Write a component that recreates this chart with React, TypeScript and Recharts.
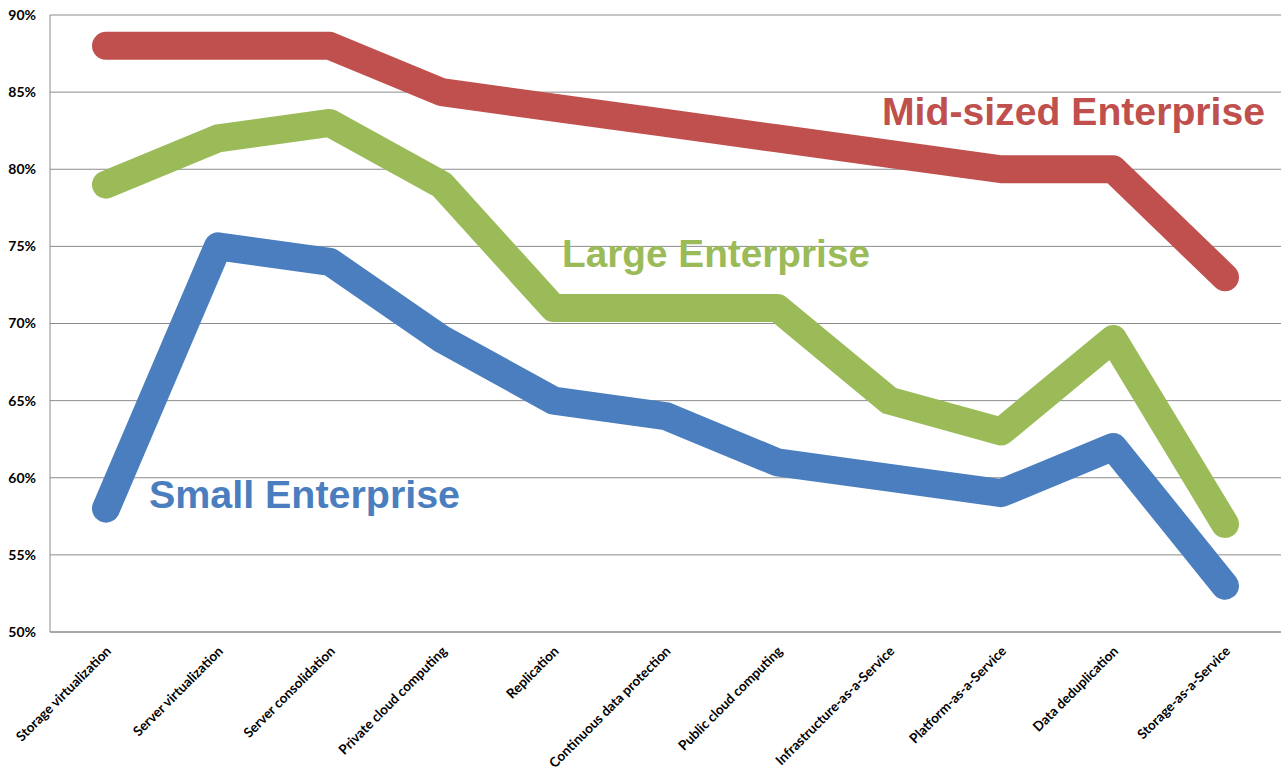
import React from "react";
import {
  LineChart,
  Line,
  XAxis,
  YAxis,
  CartesianGrid,
  Customized,
} from "recharts";

const categories = [
  "Storage virtualization",
  "Server virtualization",
  "Server consolidation",
  "Private cloud computing",
  "Replication",
  "Continuous data protection",
  "Public cloud computing",
  "Infrastructure-as-a-Service",
  "Platform-as-a-Service",
  "Data deduplication",
  "Storage-as-a-Service",
];
const midSized = [88, 88, 88, 85, 84, 83, 82, 81, 80, 80, 73];
const large = [79, 82, 83, 79, 71, 71, 71, 65, 63, 69, 57];
const small = [58, 75, 74, 69, 65, 64, 61, 60, 59, 62, 53];
const yTicks = [50, 55, 60, 65, 70, 75, 80, 85, 90];

const data = categories.map((name, i) => ({
  name,
  mid: midSized[i],
  large: large[i],
  small: small[i],
}));

const RED = "#C0504D";
const GREEN = "#9BBB59";
const BLUE = "#4A7EBE";
const GRID = "#8C8C8C";
const TICK_FONT = "Lato, 'Liberation Sans', sans-serif";

function CategoryTick(props: any) {
  const { x, y, payload } = props;
  return (
    <g transform={`translate(${x + 6},${y + 12})`}>
      <text
        transform="rotate(-45)"
        textAnchor="end"
        fontFamily={TICK_FONT}
        fontWeight="bold"
        fontSize={13.5}
        fill="#000"
      >
        {payload.value}
      </text>
    </g>
  );
}

function SeriesLabels() {
  const font = "'Liberation Sans', Arial, sans-serif";
  return (
    <g fontFamily={font} fontWeight="bold" fontSize={38}>
      <text x={882} y={125} fill={RED} textLength={383} lengthAdjust="spacingAndGlyphs">
        Mid-sized Enterprise
      </text>
      <text x={562} y={267} fill={GREEN} textLength={308} lengthAdjust="spacingAndGlyphs">
        Large Enterprise
      </text>
      <text x={149} y={508} fill={BLUE} textLength={311} lengthAdjust="spacingAndGlyphs">
        Small Enterprise
      </text>
    </g>
  );
}

export default function App() {
  const lineProps = {
    type: "linear" as const,
    strokeWidth: 28,
    strokeLinecap: "round" as const,
    strokeLinejoin: "round" as const,
    dot: false,
    activeDot: false,
    isAnimationActive: false,
  };

  return (
    <div style={{ position: "absolute", left: 0, top: 0, background: "#fff" }}>
      <LineChart
        width={1283}
        height={772}
        data={data}
        margin={{ top: 15, right: 2, left: 0, bottom: 0 }}
      >
        <CartesianGrid vertical={false} stroke={GRID} strokeWidth={1} />
        <XAxis
          dataKey="name"
          interval={0}
          height={140}
          padding={{ left: 56, right: 56 }}
          tickLine={false}
          axisLine={{ stroke: GRID }}
          tick={<CategoryTick />}
        />
        <YAxis
          width={50}
          domain={[50, 90]}
          ticks={yTicks}
          tickFormatter={(v) => `${v}%`}
          tickLine={false}
          tickMargin={8}
          axisLine={{ stroke: GRID }}
          tick={{
            fill: "#000",
            fontSize: 14,
            fontWeight: "bold",
            fontFamily: TICK_FONT,
          }}
        />
        <Line dataKey="mid" stroke={RED} {...lineProps} />
        <Line dataKey="large" stroke={GREEN} {...lineProps} />
        <Line dataKey="small" stroke={BLUE} {...lineProps} />
        <Customized component={SeriesLabels} />
      </LineChart>
    </div>
  );
}
